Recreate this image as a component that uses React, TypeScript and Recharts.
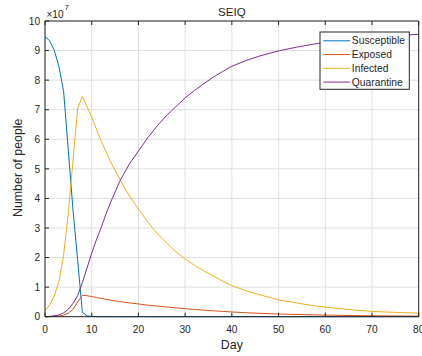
import React from 'react';
import { LineChart, Line, XAxis, YAxis, CartesianGrid } from 'recharts';

// Day samples
const days = [0, 1, 2, 3, 4, 5, 6, 7, 8, 9, 10, 11, 12, 13, 14, 16, 18, 20, 22, 24, 26, 28, 30, 32, 34, 36, 38, 40, 43, 46, 50, 54, 58, 62, 66, 70, 75, 80];
// Values in units of 1e7 people
const susceptible = [9.47, 9.33, 9.0, 8.45, 7.6, 5.6, 3.6, 1.9, 0.15, 0.03, 0.01, 0, 0, 0, 0, 0, 0, 0, 0, 0, 0, 0, 0, 0, 0, 0, 0, 0, 0, 0, 0, 0, 0, 0, 0, 0, 0, 0];
const exposed = [0, 0.002, 0.01, 0.02, 0.05, 0.12, 0.25, 0.5, 0.72, 0.71, 0.68, 0.65, 0.62, 0.59, 0.56, 0.51, 0.47, 0.43, 0.39, 0.36, 0.33, 0.3, 0.27, 0.245, 0.22, 0.2, 0.18, 0.16, 0.135, 0.115, 0.09, 0.075, 0.06, 0.048, 0.04, 0.032, 0.025, 0.02];
const infected = [0.2, 0.4, 0.7, 1.2, 2.1, 3.5, 5.3, 7.05, 7.45, 7.1, 6.75, 6.35, 5.95, 5.6, 5.25, 4.65, 4.1, 3.65, 3.2, 2.82, 2.5, 2.2, 1.95, 1.74, 1.55, 1.38, 1.21, 1.05, 0.88, 0.74, 0.57, 0.46, 0.36, 0.29, 0.23, 0.18, 0.145, 0.12];
const quarantine = [0, 0.01, 0.03, 0.06, 0.13, 0.25, 0.45, 0.72, 1.15, 1.65, 2.15, 2.6, 3.0, 3.45, 3.85, 4.58, 5.15, 5.6, 6.05, 6.45, 6.8, 7.1, 7.4, 7.65, 7.88, 8.1, 8.29, 8.47, 8.66, 8.82, 8.99, 9.12, 9.23, 9.32, 9.39, 9.45, 9.51, 9.55];

const xTicks = [0, 10, 20, 30, 40, 50, 60, 70, 80];
const yTicks = [0, 1, 2, 3, 4, 5, 6, 7, 8, 9, 10];

const seriesNames = ['Susceptible', 'Exposed', 'Infected', 'Quarantine'];
const seriesKeys = ['S', 'E', 'I', 'Q'];
const seriesColors = ['#0072BD', '#D95319', '#EDB120', '#7E2F8E'];

const data = days.map((d, i) => ({
  day: d,
  S: susceptible[i],
  E: exposed[i],
  I: infected[i],
  Q: quarantine[i],
}));

const FONT = '"Liberation Sans", Arial, Helvetica, sans-serif';
const AX = '#262626';
const W = 422;
const H = 356;
const PL = 45;
const PR = 418.7;
const PT = 21;
const PB = 316.7;
const TL = 4; // inward tick length

const BottomTick = (p: any) => (
  <g>
    <line x1={p.x} x2={p.x} y1={p.y} y2={p.y - TL} stroke={AX} strokeWidth={1} />
    <text x={p.x} y={p.y + 16.4} textAnchor="middle" fontSize={10.2} fill={AX} fontFamily={FONT}>
      {p.payload.value}
    </text>
  </g>
);
const TopTick = (p: any) => (
  <line x1={p.x} x2={p.x} y1={p.y} y2={p.y + TL} stroke={AX} strokeWidth={1} />
);
const LeftTick = (p: any) => (
  <g>
    <line x1={p.x} x2={p.x + TL} y1={p.y} y2={p.y} stroke={AX} strokeWidth={1} />
    <text x={p.x - 4.8} y={p.y + 3.7} textAnchor="end" fontSize={10.2} fill={AX} fontFamily={FONT}>
      {p.payload.value}
    </text>
  </g>
);
const RightTick = (p: any) => (
  <line x1={p.x} x2={p.x - TL} y1={p.y} y2={p.y} stroke={AX} strokeWidth={1} />
);

export default function App() {
  const yLabelY = 167.8;
  return (
    <div style={{ position: 'absolute', left: 0, top: 0, width: W, height: H, background: '#fff', fontFamily: FONT }}>
      <div style={{ position: 'absolute', left: 0, top: 0 }}>
        <LineChart width={W} height={H} data={data} margin={{ top: 0, right: 0, bottom: 0, left: 0 }}>
          <CartesianGrid stroke="#dfdfdf" strokeWidth={1} />
          <XAxis
            dataKey="day"
            type="number"
            domain={[0, 80]}
            ticks={xTicks}
            interval={0}
            height={H - PB}
            tickSize={0}
            tickMargin={0}
            tick={BottomTick}
            tickLine={false}
            axisLine={{ stroke: AX }}
          />
          <XAxis
            xAxisId="top"
            orientation="top"
            dataKey="day"
            type="number"
            domain={[0, 80]}
            ticks={xTicks}
            interval={0}
            height={PT}
            tickSize={0}
            tickMargin={0}
            tick={TopTick}
            tickLine={false}
            axisLine={{ stroke: AX }}
          />
          <YAxis
            type="number"
            domain={[0, 10]}
            ticks={yTicks}
            interval={0}
            width={PL}
            tickSize={0}
            tickMargin={0}
            tick={LeftTick}
            tickLine={false}
            axisLine={{ stroke: AX }}
          />
          <YAxis
            yAxisId="right"
            orientation="right"
            type="number"
            domain={[0, 10]}
            ticks={yTicks}
            interval={0}
            width={W - PR}
            tickSize={0}
            tickMargin={0}
            tick={RightTick}
            tickLine={false}
            axisLine={{ stroke: AX }}
          />
          {seriesKeys.map((k, i) => (
            <Line
              key={k}
              dataKey={k}
              name={seriesNames[i]}
              type="linear"
              stroke={seriesColors[i]}
              strokeWidth={1}
              dot={false}
              activeDot={false}
              isAnimationActive={false}
            />
          ))}
        </LineChart>
      </div>
      <svg
        width={W}
        height={H}
        style={{ position: 'absolute', left: 0, top: 0, pointerEvents: 'none', fontFamily: FONT }}
      >
        <text x={(PL + PR) / 2} y={15.7} textAnchor="middle" fontSize={11.5} fill={AX}>
          SEIQ
        </text>
        <text x={46.5} y={18.2} fontSize={10} fill={AX}>
          ×10
        </text>
        <text x={64.5} y={10} fontSize={8} fill={AX}>
          7
        </text>
        <text x={(PL + PR) / 2} y={349.3} textAnchor="middle" fontSize={12.4} fill={AX}>
          Day
        </text>
        <text
          x={22.3}
          y={yLabelY}
          textAnchor="middle"
          fontSize={12.4}
          fill={AX}
          transform={`rotate(-90 22.3 ${yLabelY})`}
        >
          Number of people
        </text>
        <g>
          <rect x={320} y={32} width={89.3} height={57.3} fill="#fff" stroke={AX} strokeWidth={1} />
          {seriesNames.map((n, i) => {
            const cy = 40.8 + i * 13.75;
            return (
              <g key={n}>
                <line x1={323.3} x2={350} y1={cy} y2={cy} stroke={seriesColors[i]} strokeWidth={1} />
                <text x={351.8} y={cy + 3.6} fontSize={10.3} fill={AX}>
                  {n}
                </text>
              </g>
            );
          })}
        </g>
      </svg>
    </div>
  );
}
